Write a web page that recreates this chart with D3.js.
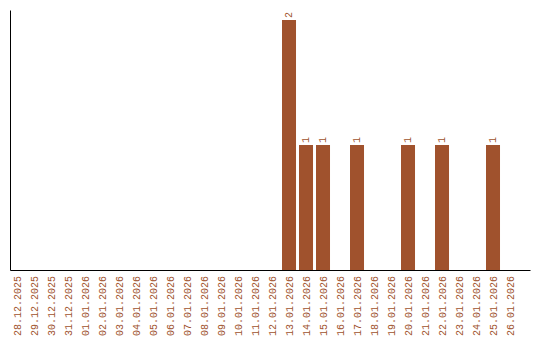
<!DOCTYPE html>
<html>
<head>
<meta charset="utf-8">
<script src="https://cdn.jsdelivr.net/npm/d3@7"></script>
<style>
  html, body { margin: 0; padding: 0; background: #fff; }
  svg { display: block; }
</style>
</head>
<body>
<svg id="chart" width="540" height="340"></svg>
<script>
const categories = ["28.12.2025","29.12.2025","30.12.2025","31.12.2025","01.01.2026","02.01.2026","03.01.2026","04.01.2026","05.01.2026","06.01.2026","07.01.2026","08.01.2026","09.01.2026","10.01.2026","11.01.2026","12.01.2026","13.01.2026","14.01.2026","15.01.2026","16.01.2026","17.01.2026","18.01.2026","19.01.2026","20.01.2026","21.01.2026","22.01.2026","23.01.2026","24.01.2026","25.01.2026","26.01.2026"];
const values = [0,0,0,0,0,0,0,0,0,0,0,0,0,0,0,0,2,1,1,0,1,0,0,1,0,1,0,0,1,0];

const color = "#A0522D";
const font = "'Liberation Mono', monospace";

const svg = d3.select("#chart");
const x = d3.scaleBand().domain(categories).range([10, 530])
  .paddingInner(0.176).paddingOuter(0.382).align(0);
const y = d3.scaleLinear().domain([0, 2.08]).range([270, 10]);

const data = categories.map((c, i) => ({c, v: values[i]}));

svg.append("g").selectAll("rect").data(data.filter(d => d.v > 0)).join("rect")
  .attr("x", d => x(d.c)).attr("width", x.bandwidth())
  .attr("y", d => y(d.v)).attr("height", d => y(0) - y(d.v))
  .attr("fill", color);

svg.append("g").selectAll("text").data(data.filter(d => d.v > 0)).join("text")
  .attr("transform", d => `translate(${x(d.c) + x.bandwidth()/2},${y(d.v) - 2}) rotate(-90)`)
  .attr("text-anchor", "start").attr("dominant-baseline", "central")
  .attr("fill", color).style("font-family", font).style("font-size", "10px")
  .text(d => d.v);

const xAxis = svg.append("g").attr("transform", "translate(0,270)")
  .call(d3.axisBottom(x).tickSize(0).tickSizeOuter(0).tickPadding(0));
xAxis.select(".domain").attr("stroke", "#000").attr("stroke-width", 1);
xAxis.selectAll("text")
  .attr("transform", "translate(0,6) rotate(-90)")
  .attr("x", 0).attr("y", 0).attr("dy", "0.35em")
  .attr("text-anchor", "end")
  .attr("fill", color).style("font-family", font).style("font-size", "10px");

const yAxis = svg.append("g").attr("transform", "translate(10,0)")
  .call(d3.axisLeft(y).tickValues([]).tickSizeOuter(0));
yAxis.select(".domain").attr("stroke", "#000").attr("stroke-width", 1);
</script>
</body>
</html>
